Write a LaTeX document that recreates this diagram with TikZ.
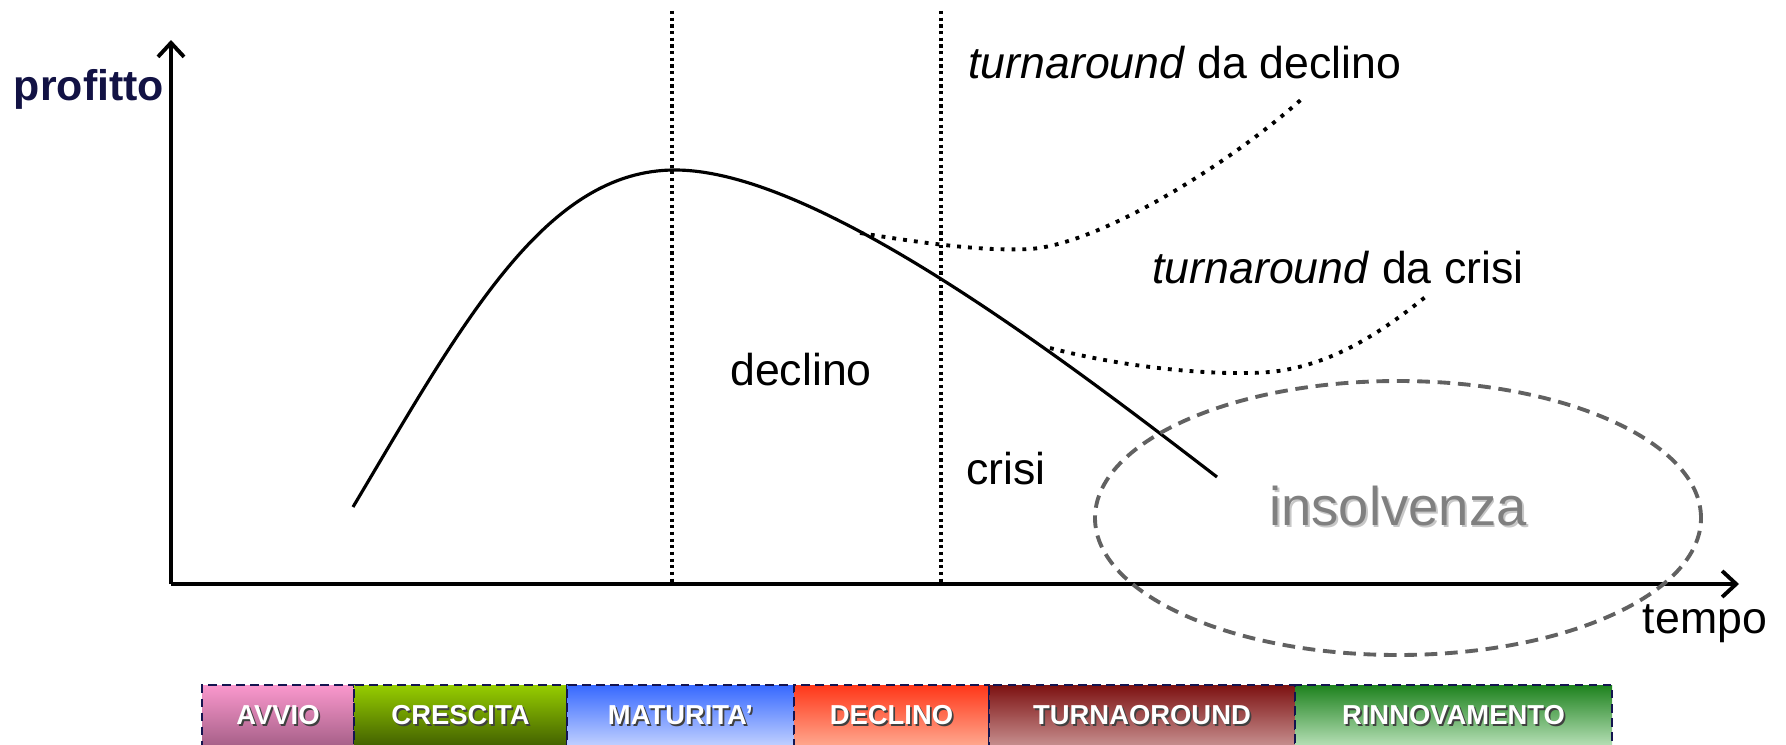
\documentclass[tikz,border=0pt]{standalone}
\usepackage{fontspec}
\setmainfont{Liberation Sans}
\usetikzlibrary{arrows.meta,positioning}

\definecolor{navy}{RGB}{18,18,68}
\definecolor{barline}{RGB}{20,20,80}
\definecolor{avvioT}{RGB}{250,152,205}
\definecolor{avvioB}{RGB}{165,95,135}
\definecolor{crescT}{RGB}{150,205,0}
\definecolor{crescB}{RGB}{65,95,0}
\definecolor{matT}{RGB}{55,105,255}
\definecolor{matB}{RGB}{195,210,255}
\definecolor{declT}{RGB}{255,55,25}
\definecolor{declB}{RGB}{255,170,145}
\definecolor{turnT}{RGB}{125,18,18}
\definecolor{turnB}{RGB}{200,145,145}
\definecolor{rinnT}{RGB}{30,130,30}
\definecolor{rinnB}{RGB}{185,225,185}

\newcommand\shadowtext[3]{% shadow colour, text colour, text
  \rlap{\hspace{0.5pt}\raisebox{-0.5pt}{\textcolor{#1}{#3}}}\textcolor{#2}{#3}}

\begin{document}
\begin{tikzpicture}[line width=0.8pt,>={Straight Barb[length=1.4mm,width=2.6mm]},
  axis/.style={->,line width=1.1pt},
  guide/.style={densely dotted,line width=0.9pt},
  branch/.style={dotted,line width=1.1pt},
  lbl/.style={font=\fontsize{12.7}{15}\selectfont,inner sep=0pt},
  phase/.style={draw=barline,dash pattern=on 2.5pt off 1.5pt,line width=0.6pt,
    minimum height=0.62cm,inner sep=0pt,outer sep=0pt,
    font=\fontsize{7.8}{9}\selectfont\bfseries}]
\useasboundingbox (0,0) rectangle (17.86,7.44);
% ---------- axes ----------
\coordinate (O) at (1.71,1.60);
\coordinate (ytop) at (1.71,7.04);
\coordinate (xend) at (17.39,1.60);
\draw[axis] (O) -- (ytop);
\draw[axis] (O) -- (xend);
\node[font=\fontsize{12.2}{14}\selectfont\bfseries,text=navy,inner sep=0pt] (profitto) at (0.89,6.55) {profitto};
\node[lbl] (tempo) at (17.05,1.20) {tempo};
% ---------- phase boundaries ----------
\coordinate (mat) at (6.72,7.33);
\coordinate (matbase) at (6.72,1.60);
\coordinate (cri) at (9.41,7.33);
\coordinate (cribase) at (9.41,1.60);
\draw[guide] (mat) -- (matbase);
\draw[guide] (cri) -- (cribase);
% ---------- profit curve ----------
\draw[line width=0.9pt] (3.53,2.37) .. controls (4.63,4.22) and (5.45,5.74) .. (6.75,5.74)
  .. controls (8.15,5.74) and (10.57,3.90) .. (12.17,2.67);
% ---------- turnaround branches ----------
\draw[branch] (8.60,5.11) .. controls (9.40,4.98) and (9.90,4.93) .. (10.30,4.95)
  .. controls (11.00,5.00) and (12.30,5.80) .. (13.04,6.47);
\draw[branch] (10.50,3.96) .. controls (11.30,3.75) and (12.20,3.68) .. (12.70,3.72)
  .. controls (13.30,3.78) and (13.80,4.10) .. (14.29,4.50);
\node[lbl] (tdecl) at (11.85,6.81) {\textit{turnaround} da declino};
\node[lbl] (tcrisi) at (13.38,4.76) {\textit{turnaround} da crisi};
\node[lbl] (declino) at (8.01,3.74) {declino};
\node[lbl] (crisi) at (10.06,2.75) {crisi};
% ---------- insolvency ----------
\draw[draw=black!62,line width=1.1pt,dash pattern=on 3.6pt off 2.2pt]
  (13.98,2.26) ellipse [x radius=3.03, y radius=1.37];
\node[font=\fontsize{15.5}{18}\selectfont,inner sep=0pt] (insolv) at (13.98,2.37)
  {\shadowtext{black!22}{black!50}{insolvenza}};
% ---------- life cycle bar ----------
\node[phase,anchor=west,minimum width=1.52cm,top color=avvioT,bottom color=avvioB]
  (avvio) at (2.02,0.28) {\shadowtext{black!75}{white}{AVVIO}};
\node[phase,right=0pt of avvio,minimum width=2.13cm,top color=crescT,bottom color=crescB]
  (crescita) {\shadowtext{black!75}{white}{CRESCITA}};
\node[phase,right=0pt of crescita,minimum width=2.27cm,top color=matT,bottom color=matB]
  (maturita) {\shadowtext{black!75}{white}{MATURITA'}};
\node[phase,right=0pt of maturita,minimum width=1.95cm,top color=declT,bottom color=declB]
  (declbar) {\shadowtext{black!75}{white}{DECLINO}};
\node[phase,right=0pt of declbar,minimum width=3.06cm,top color=turnT,bottom color=turnB]
  (turnbar) {\shadowtext{black!75}{white}{TURNAOROUND}};
\node[phase,right=0pt of turnbar,minimum width=3.17cm,top color=rinnT,bottom color=rinnB]
  (rinnbar) {\shadowtext{black!75}{white}{RINNOVAMENTO}};
\end{tikzpicture}
\end{document}
